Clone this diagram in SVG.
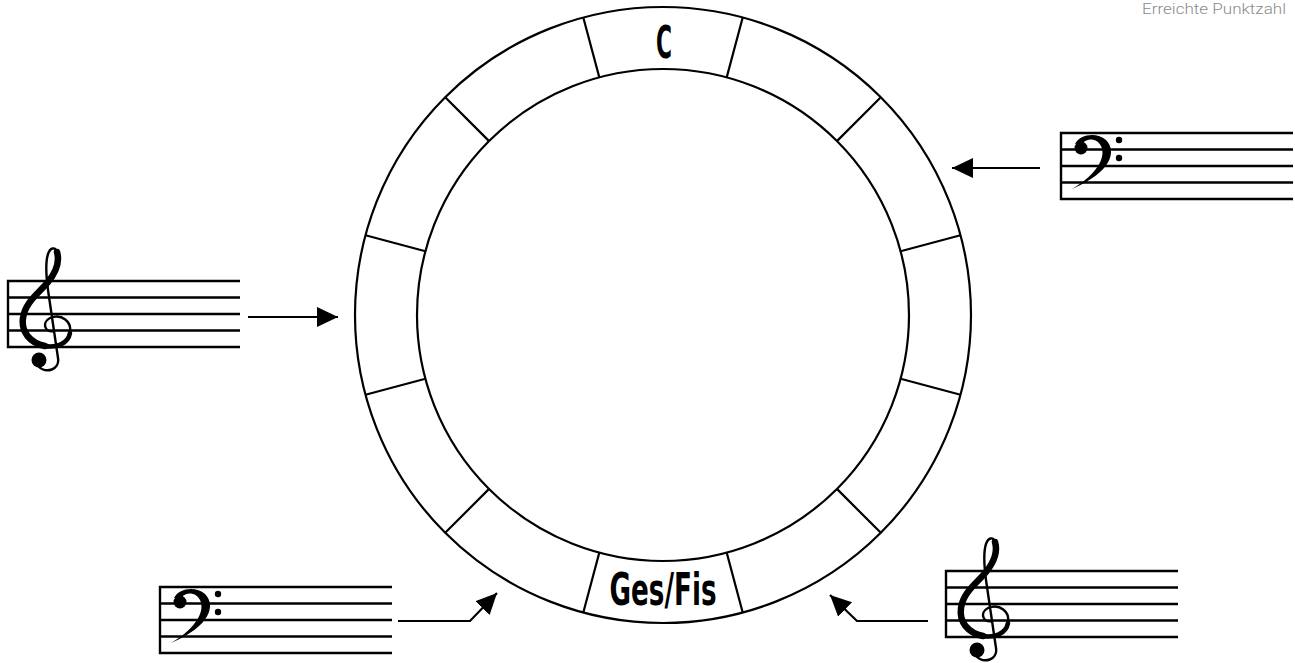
<svg xmlns="http://www.w3.org/2000/svg" xmlns:xlink="http://www.w3.org/1999/xlink" width="1295" height="663" viewBox="0 0 1295 663">
<style>
.ln{fill:none;stroke:#000;stroke-width:2.2}
.st{fill:none;stroke:#000;stroke-width:2.4}
.lab{font-family:"Liberation Sans Narrow","DejaVu Sans Condensed","Liberation Sans",sans-serif;font-size:45px;font-weight:bold;fill:#000;text-anchor:middle}
.hdr{font-family:Roboto,"Noto Sans",sans-serif;font-weight:300;font-size:15px;fill:#8a8a8a}
.arr{fill:none;stroke:#000;stroke-width:2.2;marker-end:url(#ah)}
</style>
<defs>
<marker id="ah" markerUnits="userSpaceOnUse" markerWidth="22" markerHeight="22" refX="21" refY="10" orient="auto" viewBox="0 0 22 20">
<path d="M0,0 L21,10 L0,20 Z" fill="#000"/>
</marker>
<g id="staff">
<path class="st" d="M0,0 H232 M0,16.5 H232 M0,33 H232 M0,49.5 H232 M0,66 H232 M0,-1.2 V67.2"/>
</g>
<g id="treble">
<path d="M46,50 C36,52 34,41 42,37 C54,32 64,41 62,52 C60,63 48,67 37,65 C22,62 13,51 15,37 C17,21 32,11 40,1 C48,-9 52,-19 49,-29 C47,-35 42,-33 40,-27 C37,-18 38,-6 40,9 L50,77 C52,89 38,93 30,85" fill="none" stroke="#000" stroke-width="2.4" stroke-linecap="round"/>
<path d="M37,65 C22,62 13,51 15,37 C17,21 32,11 40,1 C48,-9 52,-19 49,-29" fill="none" stroke="#000" stroke-width="6.5" stroke-linecap="round"/>
<path d="M62,52 C60,63 48,67 37,65" fill="none" stroke="#000" stroke-width="4.5" stroke-linecap="round"/>
<circle cx="31" cy="79" r="7.5"/>
</g>
<g id="bass">
<path d="M14,11 C19,1 36,-1 45,7 C56,18 51,39 11,56 C38,40 45,23 40,13 C36,5 26,5 22,10 Z" fill="#000"/>
<circle cx="20" cy="15" r="6.5"/>
<circle cx="58" cy="7" r="3.2"/>
<circle cx="58" cy="25" r="3.2"/>
</g>
</defs>
<rect width="1295" height="663" fill="#fff"/>
<text class="hdr" x="1142" y="14" textLength="144" lengthAdjust="spacingAndGlyphs">Erreichte Punktzahl</text>
<g id="ring">
<circle class="ln" cx="663" cy="315" r="308"/>
<circle class="ln" cx="663" cy="315" r="246"/>
<path class="ln" d="M742.7,17.5 L726.7,77.4 M880.8,97.2 L836.9,141.1 M960.5,235.3 L900.6,251.3 M960.5,394.7 L900.6,378.7 M880.8,532.8 L836.9,488.9 M742.7,612.5 L726.7,552.6 M583.3,612.5 L599.3,552.6 M445.2,532.8 L489.1,488.9 M365.5,394.7 L425.4,378.7 M365.5,235.3 L425.4,251.3 M445.2,97.2 L489.1,141.1 M583.3,17.5 L599.3,77.4"/>
</g>
<g id="seg-c"><text class="lab" x="664" y="58" textLength="16" lengthAdjust="spacingAndGlyphs">C</text></g>
<g id="seg-gesfis"><text class="lab" x="663" y="605" textLength="107" lengthAdjust="spacingAndGlyphs">Ges/Fis</text></g>
<g id="staff-treble-left" transform="translate(8,281)">
<use xlink:href="#staff"/><use xlink:href="#treble"/>
</g>
<g id="staff-bass-right" transform="translate(1061,133)">
<use xlink:href="#staff"/><use xlink:href="#bass"/>
</g>
<g id="staff-bass-bottom" transform="translate(160,587)">
<use xlink:href="#staff"/><use xlink:href="#bass"/>
</g>
<g id="staff-treble-bottom" transform="translate(946,571)">
<use xlink:href="#staff"/><use xlink:href="#treble"/>
</g>
<g id="connectors">
<path class="arr" d="M248,317 H338"/>
<path class="arr" d="M1040,168 H952"/>
<path class="arr" d="M398,621 H470 L497,593"/>
<path class="arr" d="M928,621 H857 L830,595"/>
</g>
</svg>
